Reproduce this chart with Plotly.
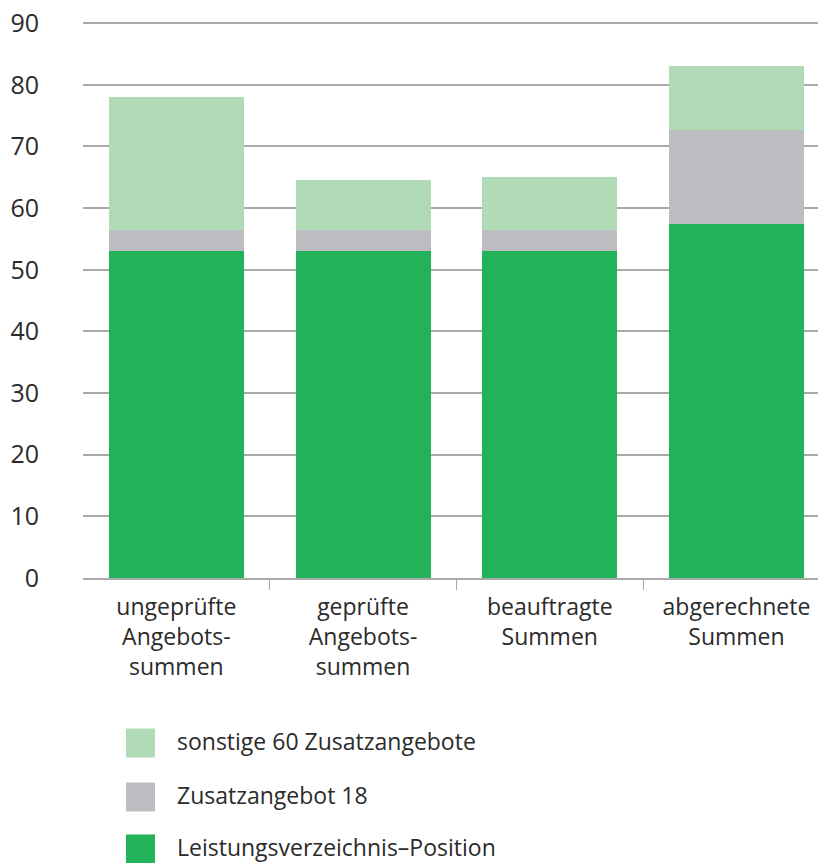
import plotly.graph_objects as go

categories = ["ungeprüfte<br>Angebots-<br>summen", "geprüfte<br>Angebots-<br>summen",
              "beauftragte<br>Summen", "abgerechnete<br>Summen"]
lv_position = [53.0, 53.0, 53.0, 57.4]
zusatz_18 = [3.5, 3.5, 3.5, 15.2]
sonstige_60 = [21.5, 8.1, 8.6, 10.4]

series_names = ["Leistungsverzeichnis–Position", "Zusatzangebot 18", "sonstige 60 Zusatzangebote"]
series_values = [lv_position, zusatz_18, sonstige_60]
colors = ["#22b25a", "#bcbdc0", "#b1dbb7"]

W, H = 818, 863
L, R, T, B = 83, 0, 17, 285
pw, ph = W - L - R, H - T - B

font_family = "Open Sans, Noto Sans, sans-serif"
txt_color = "#2b2b2b"

fig = go.Figure()
for name, vals, col in zip(series_names, series_values, colors):
    fig.add_trace(go.Bar(x=categories, y=vals, name=name,
                         marker=dict(color=col, line=dict(width=0)),
                         showlegend=False, hoverinfo="skip"))

# invisible trace on overlay axis to keep it rendered
fig.add_trace(go.Scatter(x=[0], y=[0], xaxis="x2", mode="markers",
                         marker=dict(opacity=0), showlegend=False, hoverinfo="skip"))

xr = [-0.5, -0.5 + pw / 186.7]

fig.update_layout(
    width=W, height=H,
    margin=dict(l=L, r=R, t=T, b=B),
    paper_bgcolor="white", plot_bgcolor="white",
    barmode="stack", bargap=0.277,
    font=dict(family=font_family, size=23, color=txt_color),
    xaxis=dict(range=xr, showgrid=False, zeroline=False, showline=True,
               linecolor="#a9a9a9", linewidth=1.5, ticks="",
               ticklabelstandoff=8,
               tickfont=dict(size=23, color=txt_color)),
    xaxis2=dict(overlaying="x", range=xr, type="linear",
                tickvals=[0.5, 1.5, 2.5], ticks="outside", ticklen=11,
                tickwidth=1.2, tickcolor="#a9a9a9", showticklabels=False,
                showgrid=False, zeroline=False, showline=False, side="bottom"),
    yaxis=dict(range=[0, 91], tickvals=[0, 10, 20, 30, 40, 50, 60, 70, 80, 90],
               showgrid=True, gridcolor="#a9a9a9",
               gridwidth=1.5, zeroline=False, showline=False, ticks="",
               ticklabelstandoff=43,
               tickfont=dict(size=25, color=txt_color)),
    showlegend=False,
)

def px_x(x):
    return (x - L) / pw

def px_y(y):
    return (H - B - y) / ph

legend_rows = [(743, series_names[2], colors[2]),
               (797, series_names[1], colors[1]),
               (849, series_names[0], colors[0])]
for yc, name, col in legend_rows:
    fig.add_shape(type="rect", xref="paper", yref="paper",
                  x0=px_x(126), x1=px_x(155), y0=px_y(yc + 14.5), y1=px_y(yc - 14.5),
                  fillcolor=col, line=dict(width=0))
    fig.add_annotation(xref="paper", yref="paper", x=px_x(175), y=px_y(yc - 2),
                       text=name, showarrow=False, xanchor="left", yanchor="middle",
                       font=dict(size=23, color=txt_color))

fig.write_html("out.html", config={"displayModeBar": False},
               post_script="document.body.style.margin='0px';")
